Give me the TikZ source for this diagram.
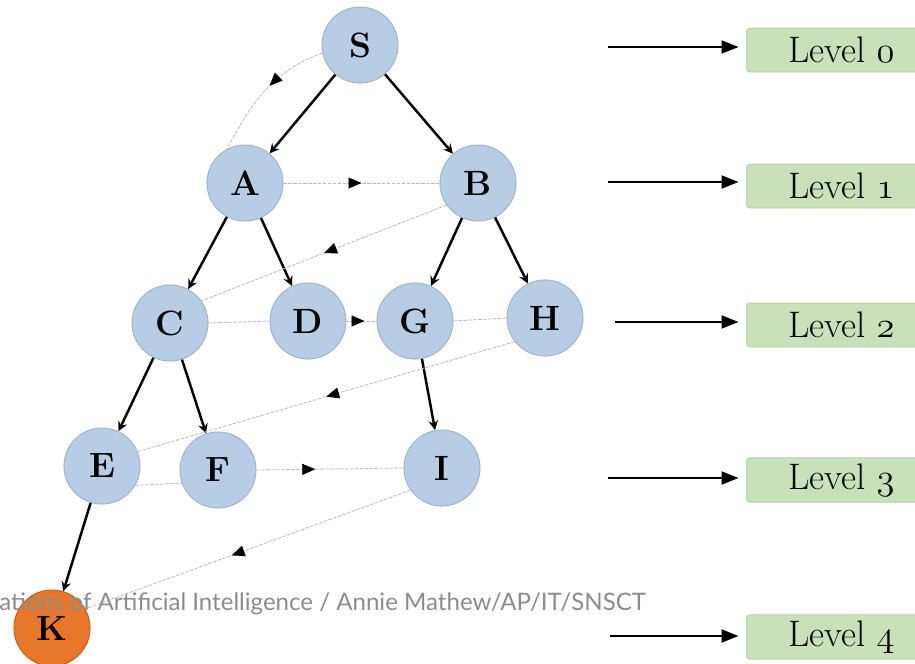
\documentclass[tikz,border=0pt]{standalone}
\usepackage{fontspec}
\newfontfamily\notefont{Lato}
\usepackage{tikz}
\usetikzlibrary{arrows}
\usetikzlibrary{arrows.meta}
\usetikzlibrary{decorations.markings}
\usetikzlibrary{positioning}
\definecolor{nodeblue}{HTML}{B7CDE6}
\definecolor{nodeedge}{HTML}{A3B6CB}
\definecolor{goalorange}{HTML}{E8772C}
\definecolor{goaledge}{HTML}{C9621D}
\definecolor{levelgreen}{HTML}{C9E1B9}
\definecolor{leveledge}{HTML}{B3CCA4}
\definecolor{notegray}{HTML}{8C8C8C}
\newcommand{\osnum}[1]{{\usefont{OML}{cmm}{m}{it}#1}}

\begin{document}
\begin{tikzpicture}[x=0.2mm, y=-0.2mm,
			vertex/.style={draw=nodeedge, line width=0.6pt, circle, fill=nodeblue, minimum size=15.2mm, inner sep=0pt, font=\fontsize{20}{22}\selectfont\bfseries},
			goal/.style={vertex, draw=goaledge, fill=goalorange},
			tree/.style={->, >=stealth, line width=1.4pt},
			visit/.style={draw=gray!55, line width=0.45pt, dash pattern=on 2pt off 0.8pt},
			midarrow/.style={postaction={decorate}, decoration={markings, mark=at position #1 with {\arrow[black]{Triangle[length=2.6mm, width=2.2mm]}}}},
			midarrow/.default=0.5,
			level/.style={draw=leveledge, fill=levelgreen, rounded corners=2pt, minimum width=38mm, minimum height=8.8mm, font=\fontsize{21}{23}\selectfont},
			levelarrow/.style={-{Triangle[length=3.4mm, width=2.6mm]}, line width=1.1pt, shorten >=1.5mm}]
			\useasboundingbox (0,0) rectangle (915,663);
			\clip (0,0) rectangle (915,663);

			% search tree
			\node[vertex](nodeS) at (360,45) {S};
			\node[vertex](nodeA) at (245,183) {A};
			\node[vertex](nodeB) at (478,183) {B};
			\node[vertex](nodeC) at (170,323) {C};
			\node[vertex](nodeD) at (308,321) {D};
			\node[vertex](nodeG) at (415,321) {G};
			\node[vertex](nodeH) at (545,318) {H};
			\node[vertex](nodeE) at (102,466) {E};
			\node[vertex](nodeF) at (218,470) {F};
			\node[vertex](nodeI) at (442,468) {I};
			\node[goal](nodeK) at (52,628) {K};

			\draw[tree] (nodeS) edge (nodeA);
			\draw[tree] (nodeS) edge (nodeB);
			\draw[tree] (nodeA) edge (nodeC);
			\draw[tree] (nodeA) edge (nodeD);
			\draw[tree] (nodeB) edge (nodeG);
			\draw[tree] (nodeB) edge (nodeH);
			\draw[tree] (nodeC) edge (nodeE);
			\draw[tree] (nodeC) edge (nodeF);
			\draw[tree] (nodeG) edge (nodeI);
			\draw[tree] (nodeE) edge (nodeK);

			% visiting order
			\draw[visit, midarrow=0.45] (nodeS.192) to[out=200, in=62] (nodeA.118);
			\draw[visit, midarrow] (nodeA.east) -- (nodeB.west);
			\draw[visit, midarrow] (nodeB.215) -- (nodeC.35);
			\draw[visit] (nodeC.east) -- (nodeD.west);
			\draw[visit, midarrow=0.6] (nodeD.east) -- (nodeG.west);
			\draw[visit] (nodeG.east) -- (nodeH.west);
			\draw[visit, midarrow] (nodeH.218) -- (nodeE.22);
			\draw[visit] (nodeE.-30) -- (nodeF.200);
			\draw[visit, midarrow=0.4] (nodeF.east) -- (nodeI.west);
			\draw[visit, midarrow=0.55] (nodeI.215) -- (nodeK.30);

			% levels
			\node[level, anchor=west](lvl0) at (746,50) {Level \osnum{0}};
			\node[level, anchor=west](lvl1) at (746,186) {Level \osnum{1}};
			\node[level, anchor=west](lvl2) at (746,325) {Level \osnum{2}};
			\node[level, anchor=west](lvl3) at (746,480) {Level \osnum{3}};
			\node[level, anchor=west](lvl4) at (746,637) {Level \osnum{4}};

			\coordinate (from0) at (608,47);
			\coordinate (from1) at (608,182);
			\coordinate (from2) at (615,322);
			\coordinate (from3) at (608,478);
			\coordinate (from4) at (610,636);
			\draw[levelarrow] (from0) -- (lvl0.west |- from0);
			\draw[levelarrow] (from1) -- (lvl1.west |- from1);
			\draw[levelarrow] (from2) -- (lvl2.west |- from2);
			\draw[levelarrow] (from3) -- (lvl3.west |- from3);
			\draw[levelarrow] (from4) -- (lvl4.west |- from4);

			\node[anchor=west, inner sep=0pt, text=notegray, font=\notefont\fontsize{13.7}{16}\selectfont](note) at (-1,604) {ations of Artificial Intelligence / Annie Mathew/AP/IT/SNSCT};
			\end{tikzpicture}
\end{document}
